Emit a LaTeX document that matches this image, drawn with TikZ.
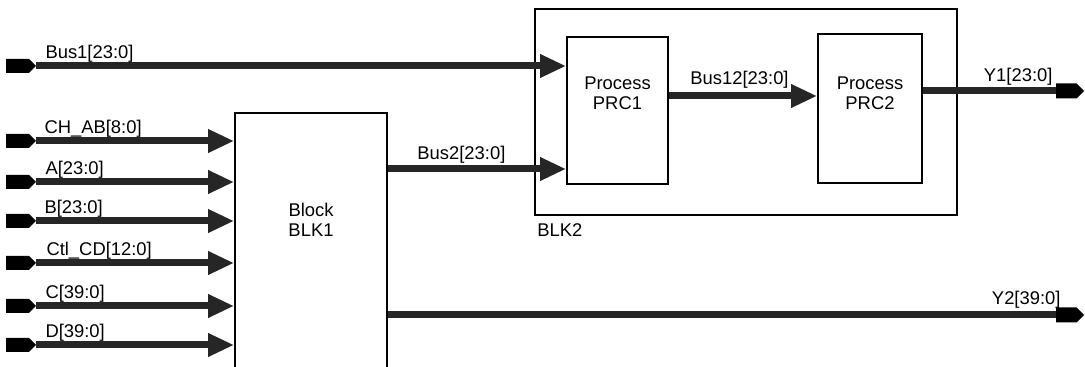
\documentclass[tikz,border=0pt]{standalone}
\usepackage{fontspec}
\setmainfont{Liberation Sans}
\usetikzlibrary{arrows.meta,shapes.symbols}

\begin{document}
\begin{tikzpicture}[x=0.5pt, y=-0.5pt, every node/.style={font=\fontsize{9.2}{10}\selectfont},
	b/.style={draw, line width=0.9pt, align=center},
	pin/.style={signal, signal to=east, signal pointer angle=90, fill=black, inner sep=0pt, outer sep=0pt, minimum width=15pt, minimum height=7pt, anchor=west},
	bus/.style={draw=black!85, line width=3.5pt, -{Triangle[length=13pt, width=11pt]}},
	lab/.style={anchor=base west, inner sep=0pt, yshift=3.5pt}]
	\useasboundingbox (0,0) rectangle (1085,367);
	% blocks
	\node[b, minimum width=76pt, minimum height=141pt, label={[anchor=north, yshift=-42pt, align=center]north:Block\\BLK1}] (blk1) at (311,254) {};
	\node[b, minimum width=211pt, minimum height=103pt] (blk2) at (746,112) {};
	\node[anchor=base west, inner sep=0pt] (blk2l) at (537,237) {BLK2};
	\node[b, minimum width=50.5pt, minimum height=73.5pt, label={[anchor=north, yshift=-17pt, align=center]north:Process\\PRC1}] (prc1) at (617.5,110.5) {};
	\node[b, minimum width=52pt, minimum height=74.5pt, label={[anchor=north, yshift=-18.5pt, align=center]north:Process\\PRC2}] (prc2) at (870,108.5) {};
	% ports
	\node[pin] (p1) at (6,66) {};
	\node[pin] (pch) at (6,141) {};
	\node[pin] (pa) at (6,182) {};
	\node[pin] (pb) at (6,221) {};
	\node[pin] (pctl) at (6,263) {};
	\node[pin] (pc) at (6,306) {};
	\node[pin] (pd) at (6,345) {};
	\node[pin, anchor=east, minimum width=14pt, minimum height=7.5pt] (y1) at (1084,91) {};
	\node[pin, anchor=east, minimum width=14pt, minimum height=7.5pt] (y2) at (1084,315) {};
	\coordinate (b2) at (0,169);
	\coordinate (b12) at (0,96);
	% buses
	\draw[bus] (p1.east) -- (p1 -| prc1.west) node[lab, pos=0, xshift=3pt] {Bus1[23:0]};
	\draw[bus] (pch.east) -- (pch -| blk1.west) node[lab, pos=0, xshift=2.5pt] {CH\_AB[8:0]};
	\draw[bus] (pa.east) -- (pa -| blk1.west) node[lab, pos=0, xshift=3pt] {A[23:0]};
	\draw[bus] (pb.east) -- (pb -| blk1.west) node[lab, pos=0, xshift=2.5pt] {B[23:0]};
	\draw[bus] (pctl.east) -- (pctl -| blk1.west) node[lab, pos=0, xshift=3.5pt] {Ctl\_CD[12:0]};
	\draw[bus] (pc.east) -- (pc -| blk1.west) node[lab, pos=0, xshift=3pt] {C[39:0]};
	\draw[bus] (pd.east) -- (pd -| blk1.west) node[lab, pos=0, xshift=3pt] {D[39:0]};
	\draw[bus] (b2 -| blk1.east) -- (b2 -| prc1.west) node[lab, pos=0, xshift=13pt, yshift=1pt] {Bus2[23:0]};
	\draw[bus] (b12 -| prc1.east) -- (b12 -| prc2.west) node[lab, pos=0, xshift=9pt, yshift=2pt] {Bus12[23:0]};
	\draw[bus, -] (y1 -| prc2.east) -- (y1.west) node[lab, pos=1, anchor=base east, xshift=0pt, yshift=1pt] {Y1[23:0]};
	\draw[bus, -] (y2 -| blk1.east) -- (y2.west) node[lab, pos=1, anchor=base east, xshift=4pt, yshift=1.5pt] {Y2[39:0]};
\end{tikzpicture}
\end{document}
